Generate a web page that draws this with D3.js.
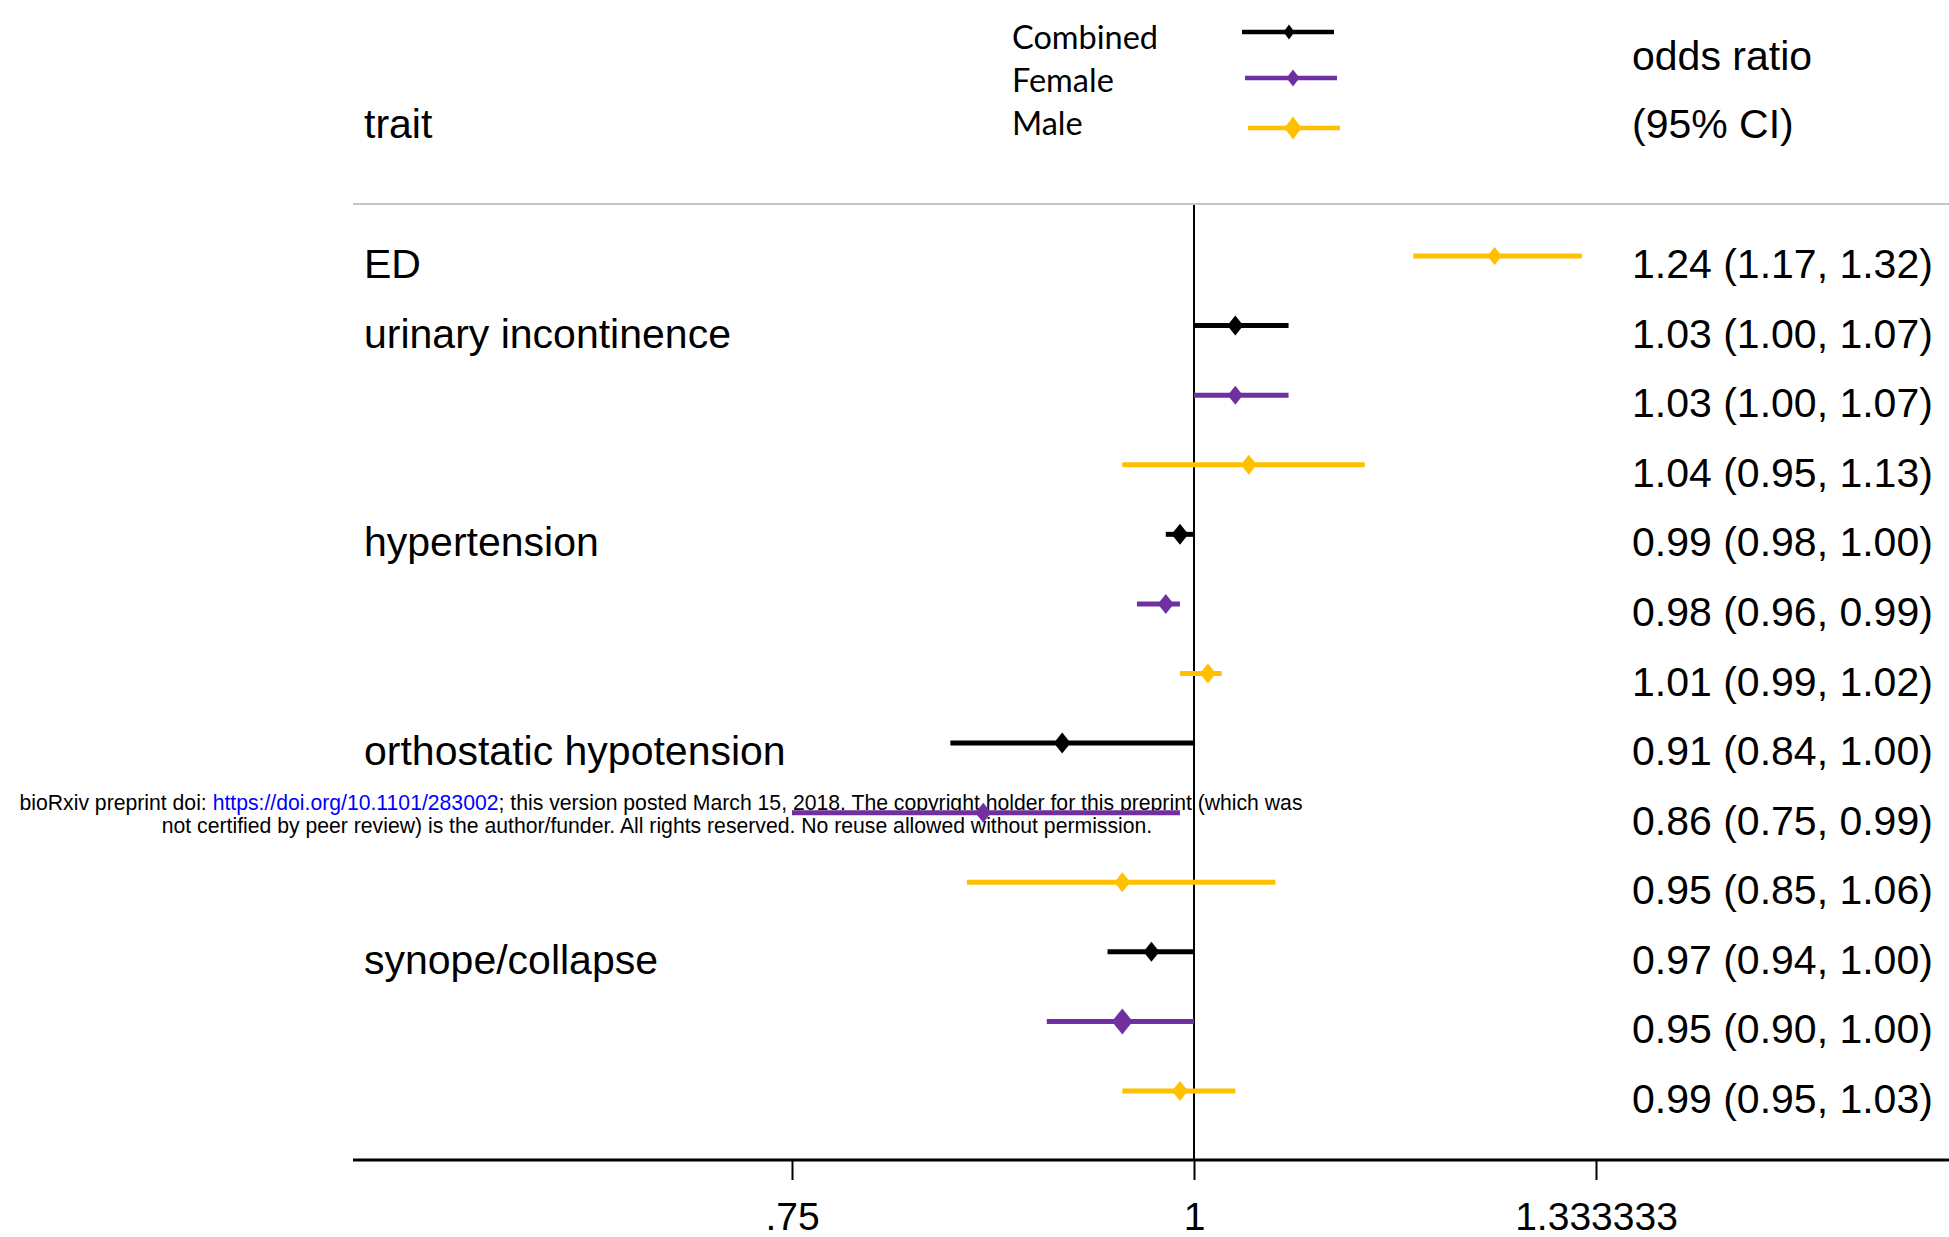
<!DOCTYPE html>
<html lang="en">
<head>
    <meta charset="UTF-8">
    <title>Forest plot</title>
    <script type="text/javascript" src="https://cdn.jsdelivr.net/npm/d3@7/dist/d3.min.js"></script>
    <style type="text/css">
        body { margin: 0; background: white; }
        svg text { font-family: "Liberation Sans", Arial, sans-serif; fill: black; }
        .legend text { font-family: Lato, "Open Sans", sans-serif; }
    </style>
</head>
<body>
    <script type="text/javascript">
        // rows of the plot, top to bottom
        var rowTrait = ["ED", "urinary incontinence", "", "", "hypertension", "", "",
                        "orthostatic hypotension", "", "", "synope/collapse", "", ""];
        var rowGroup = ["Male", "Combined", "Female", "Male", "Combined", "Female", "Male",
                        "Combined", "Female", "Male", "Combined", "Female", "Male"];
        var oddsRatio = [1.24, 1.03, 1.03, 1.04, 0.99, 0.98, 1.01, 0.91, 0.86, 0.95, 0.97, 0.95, 0.99];
        var ciLow     = [1.17, 1.00, 1.00, 0.95, 0.98, 0.96, 0.99, 0.84, 0.75, 0.85, 0.94, 0.90, 0.95];
        var ciHigh    = [1.32, 1.07, 1.07, 1.13, 1.00, 0.99, 1.02, 1.00, 0.99, 1.06, 1.00, 1.00, 1.03];
        // relative marker weight (bigger diamond = heavier)
        var markerWeight = [0.9, 1, 0.95, 1, 1.05, 1, 1, 1.05, 1, 1, 1, 1.3, 1];

        var groups = ["Combined", "Female", "Male"];
        var tickValues = [0.75, 1, 4 / 3];
        var tickLabels = [".75", "1", "1.333333"];

        var width = 1949;
        var height = 1237;
        var colors = { Combined: "#000000", Female: "#7030A0", Male: "#FFC000" };
        var fontSize = 41;

        var svg = d3.select("body")
            .append("svg")
            .attr("width", width)
            .attr("height", height);

        var x = d3.scaleLog()
            .domain([0.75, 4 / 3])
            .range([792, 1596]);

        var rowIdx = d3.range(oddsRatio.length);
        var y = d3.scalePoint()
            .domain(rowIdx)
            .range([256, 1091]);

        var diamond = function(w, h) {
            return `M0,${-h}L${w},0L0,${h}L${-w},0Z`;
        };

        // preprint watermark (sits under the marks)
        var wm = svg.append("g").attr("class", "watermark");
        var wm1 = wm.append("text")
            .attr("x", 661)
            .attr("y", 810)
            .attr("text-anchor", "middle")
            .style("font-size", "21.2px");
        wm1.append("tspan").text("bioRxiv preprint doi: ");
        wm1.append("tspan").style("fill", "#0000FF").text("https://doi.org/10.1101/283002");
        wm1.append("tspan").text("; this version posted March 15, 2018. The copyright holder for this preprint (which was");
        wm.append("text")
            .attr("x", 657)
            .attr("y", 833)
            .attr("text-anchor", "middle")
            .style("font-size", "21.2px")
            .text("not certified by peer review) is the author/funder. All rights reserved. No reuse allowed without permission.");

        // header
        svg.append("text")
            .attr("x", 364)
            .attr("y", 138)
            .style("font-size", fontSize + "px")
            .text("trait");
        svg.append("text")
            .attr("x", 1632)
            .attr("y", 70)
            .style("font-size", fontSize + "px")
            .text("odds ratio");
        svg.append("text")
            .attr("x", 1632)
            .attr("y", 138)
            .style("font-size", fontSize + "px")
            .text("(95% CI)");

        // legend
        var legendBaseline = [49, 92, 135];
        var legendLineY = [32, 78, 128];
        var legendMarker = { Combined: [5.5, 7.5], Female: [6.5, 8.5], Male: [8.5, 11.5] };
        var legend = svg.append("g").attr("class", "legend");
        var lg = legend.selectAll("g")
            .data(groups)
            .enter()
            .append("g");
        lg.append("text")
            .attr("x", 1012)
            .attr("y", function(d, i) { return legendBaseline[i] })
            .style("font-size", "32.5px")
            .text(function(d) { return d });
        lg.append("line")
            .attr("x1", function(d, i) { return 1242 + i * 3 })
            .attr("x2", function(d, i) { return 1334 + i * 3 })
            .attr("y1", function(d, i) { return legendLineY[i] })
            .attr("y2", function(d, i) { return legendLineY[i] })
            .attr("stroke", function(d) { return colors[d] })
            .attr("stroke-width", 4.5);
        lg.append("path")
            .attr("transform", function(d, i) { return `translate(${1289 + (i > 0 ? 4 : 0)},${legendLineY[i]})` })
            .attr("d", function(d) { return diamond(legendMarker[d][0], legendMarker[d][1]) })
            .attr("fill", function(d) { return colors[d] });

        // frame lines
        svg.append("line")
            .attr("x1", 353).attr("x2", width)
            .attr("y1", 204).attr("y2", 204)
            .attr("stroke", "#c4c4c4")
            .attr("stroke-width", 2);

        var axisY = 1160;
        svg.append("line")
            .attr("x1", x(1)).attr("x2", x(1))
            .attr("y1", 205).attr("y2", axisY)
            .attr("stroke", "black")
            .attr("stroke-width", 2);

        // trait labels and OR text
        svg.append("g")
            .selectAll("text")
            .data(rowIdx.filter(function(i) { return rowTrait[i] !== "" }))
            .enter()
            .append("text")
            .attr("x", 364)
            .attr("y", function(i) { return y(i) + 22 })
            .style("font-size", fontSize + "px")
            .text(function(i) { return rowTrait[i] });

        var f = d3.format(".2f");
        svg.append("g")
            .selectAll("text")
            .data(rowIdx)
            .enter()
            .append("text")
            .attr("x", 1632)
            .attr("y", function(i) { return y(i) + 22 })
            .style("font-size", fontSize + "px")
            .text(function(i) { return `${f(oddsRatio[i])} (${f(ciLow[i])}, ${f(ciHigh[i])})` });

        // CI lines and diamonds
        var marks = svg.append("g")
            .selectAll("g")
            .data(rowIdx)
            .enter()
            .append("g");
        marks.append("line")
            .attr("x1", function(i) { return x(ciLow[i]) })
            .attr("x2", function(i) { return x(ciHigh[i]) })
            .attr("y1", function(i) { return y(i) })
            .attr("y2", function(i) { return y(i) })
            .attr("stroke", function(i) { return colors[rowGroup[i]] })
            .attr("stroke-width", 5);
        marks.append("path")
            .attr("transform", function(i) { return `translate(${x(oddsRatio[i])},${y(i)})` })
            .attr("d", function(i) { return diamond(8 * markerWeight[i], 10 * markerWeight[i]) })
            .attr("fill", function(i) { return colors[rowGroup[i]] });

        // x axis
        var axis = d3.axisBottom(x)
            .tickValues(tickValues)
            .tickFormat(function(d, i) { return tickLabels[i] })
            .tickSize(20)
            .tickSizeOuter(0)
            .tickPadding(22);
        var ax = svg.append("g")
            .attr("transform", `translate(0, ${axisY})`)
            .call(axis);
        ax.select(".domain").remove();
        ax.selectAll(".tick line").attr("stroke", "black").attr("stroke-width", 2);
        ax.selectAll(".tick text")
            .attr("font-family", null)
            .style("font-size", "39px")
            .attr("fill", "black");
        svg.append("line")
            .attr("x1", 353).attr("x2", width)
            .attr("y1", axisY).attr("y2", axisY)
            .attr("stroke", "black")
            .attr("stroke-width", 3);
    </script>
</body>
</html>
